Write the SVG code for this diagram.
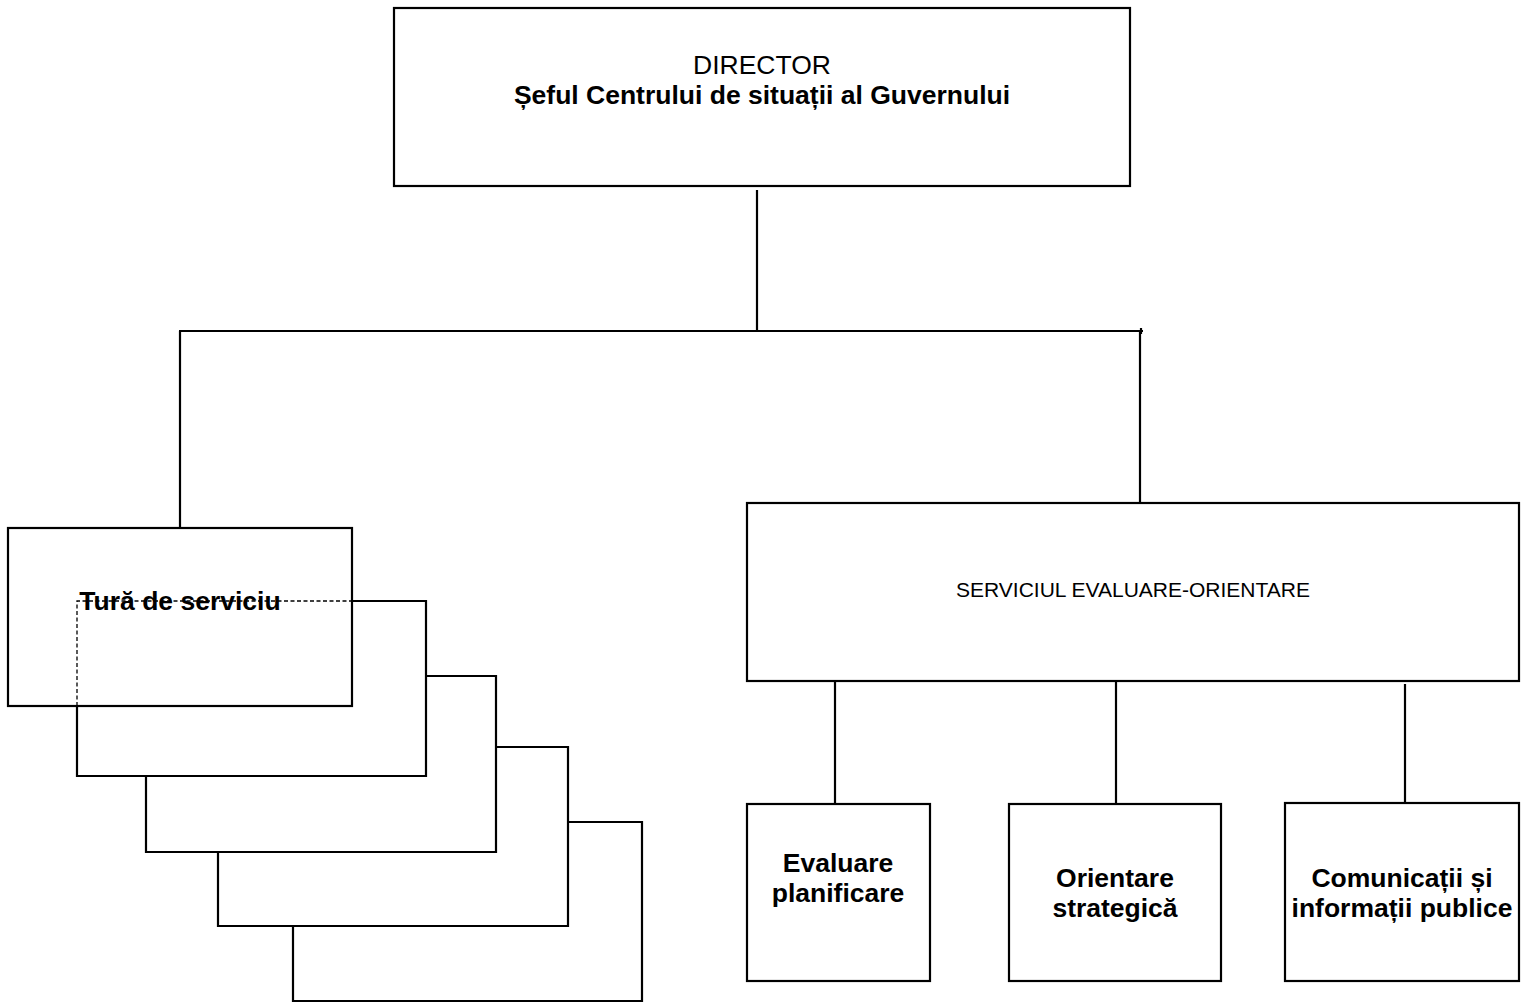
<svg xmlns="http://www.w3.org/2000/svg" width="1526" height="1004" viewBox="0 0 1526 1004">
<style>
.box{fill:none;stroke:#000;stroke-width:2.2}
.ln{fill:none;stroke:#000;stroke-width:2.2}
.dash{fill:none;stroke:#000;stroke-width:1.3;stroke-dasharray:4 2.5}
text{font-family:"Liberation Sans",Arial,sans-serif;fill:#000;text-anchor:middle}
.b{font-weight:bold;font-size:26.5px}
.n{font-size:26.5px}
.s{font-size:21px}
</style>
<rect width="1526" height="1004" fill="#fff"/>
<g id="connectors">
<line class="ln" x1="757" y1="190" x2="757" y2="331"/>
<line class="ln" x1="179" y1="331" x2="1143" y2="331"/>
<line class="ln" x1="1141" y1="328" x2="1141" y2="334"/>
<line class="ln" x1="180" y1="331" x2="180" y2="527"/>
<line class="ln" x1="1140" y1="331" x2="1140" y2="502"/>
<line class="ln" x1="835" y1="681" x2="835" y2="803"/>
<line class="ln" x1="1116" y1="681" x2="1116" y2="803"/>
<line class="ln" x1="1405" y1="684" x2="1405" y2="802"/>
</g>
<g id="director">
<rect class="box" x="394" y="8" width="736" height="178"/>
<text class="n" x="762" y="74">DIRECTOR</text>
<text class="b" x="762" y="104">Șeful Centrului de situații al Guvernului</text>
</g>
<g id="tura-stack">
<path class="ln" d="M293,926 V1001 H642 V822 H568"/>
<path class="ln" d="M218,852 V926 H568 V747 H496"/>
<path class="ln" d="M146,776 V852 H496 V676 H426"/>
<path class="ln" d="M77,706 V776 H426 V601 H352"/>
<path class="dash" d="M77,706 V601 H352"/>
</g>
<g id="tura">
<rect class="box" x="8" y="528" width="344" height="178"/>
<text class="b" x="180" y="610">Tură de serviciu</text>
</g>
<g id="serviciul">
<rect class="box" x="747" y="503" width="772" height="178"/>
<text class="s" x="1133" y="597">SERVICIUL EVALUARE-ORIENTARE</text>
</g>
<g id="evaluare">
<rect class="box" x="747" y="804" width="183" height="177"/>
<text class="b" x="838" y="872">Evaluare</text>
<text class="b" x="838" y="902">planificare</text>
</g>
<g id="orientare">
<rect class="box" x="1009" y="804" width="212" height="177"/>
<text class="b" x="1115" y="887">Orientare</text>
<text class="b" x="1115" y="917">strategică</text>
</g>
<g id="comunicatii">
<rect class="box" x="1285" y="803" width="234" height="178"/>
<text class="b" x="1402" y="887">Comunicații și</text>
<text class="b" x="1402" y="917">informații publice</text>
</g>
</svg>
